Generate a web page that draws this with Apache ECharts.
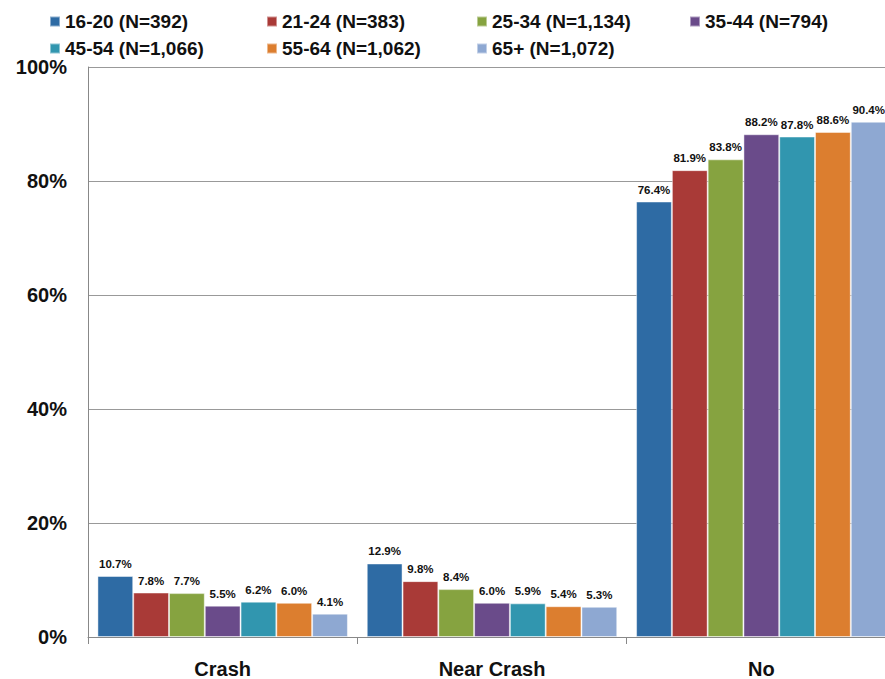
<!DOCTYPE html>
<html>
<head>
<meta charset="utf-8">
<script src="https://cdn.jsdelivr.net/npm/echarts@6/dist/echarts.min.js"></script>
<style>
  html, body { margin: 0; padding: 0; background: #fff; }
  #box { width: 885px; height: 679px; }
</style>
</head>
<body>
<div id="box"></div>
<script>
// categories and series (percent)
let categories = ["Crash", "Near Crash", "No"];
let groupNames = ["16-20 (N=392)", "21-24 (N=383)", "25-34 (N=1,134)", "35-44 (N=794)",
  "45-54 (N=1,066)", "55-64 (N=1,062)", "65+ (N=1,072)"];
let age1620 = [10.7, 12.9, 76.4];
let age2124 = [7.8, 9.8, 81.9];
let age2534 = [7.7, 8.4, 83.8];
let age3544 = [5.5, 6.0, 88.2];
let age4554 = [6.2, 5.9, 87.8];
let age5564 = [6.0, 5.4, 88.6];
let age65 = [4.1, 5.3, 90.4];
let yTicks = [0, 20, 40, 60, 80, 100];

let values = [age1620, age2124, age2534, age3544, age4554, age5564, age65];
let colors = ["#2E6BA4", "#A93A37", "#86A340", "#6A4B8A", "#3196AF", "#DC7E2F", "#8EA8D2"];
let font = "'Liberation Sans', Arial, sans-serif";

let chart = echarts.init(document.getElementById("box"), null, { renderer: "svg" });

let series = values.map((v, i) => ({
  type: "bar",
  name: groupNames[i],
  data: v,
  barGap: "0%",
  barCategoryGap: "7%",
  itemStyle: { color: colors[i], borderColor: "rgba(255,255,255,0.45)", borderWidth: 1 },
  label: {
    show: true,
    position: "top",
    distance: 6,
    formatter: p => p.value.toFixed(1) + "%",
    fontFamily: font,
    fontWeight: "bold",
    fontSize: 11.5,
    color: "#111"
  }
}));

// one legend per item so the columns line up like the original
let legendCols = [44, 261, 471, 684];
let legends = groupNames.map((name, i) => ({
  left: legendCols[i % 4],
  top: i < 4 ? 7 : 34,
  data: [name],
  itemWidth: 10,
  itemHeight: 10,
  itemGap: 0,
  icon: "rect",
  textStyle: { fontFamily: font, fontWeight: "bold", fontSize: 19, color: "#111" }
}));

let option = {
  animation: false,
  legend: legends,
  // the original plot runs a little past the right edge of the picture
  grid: { left: 88, width: 808, top: 67, bottom: 42, containLabel: false, outerBoundsMode: "none" },
  xAxis: {
    type: "category",
    data: categories,
    axisLine: { lineStyle: { color: "#888" } },
    axisTick: { show: true, length: 7, lineStyle: { color: "#888" } },
    axisLabel: { margin: 22, fontFamily: font, fontWeight: "bold", fontSize: 20, color: "#111" }
  },
  yAxis: {
    type: "value",
    min: 0,
    max: 100,
    interval: 20,
    axisLine: { show: true, lineStyle: { color: "#888" } },
    axisTick: { show: false },
    splitLine: { lineStyle: { color: "#999" } },
    axisLabel: {
      margin: 21,
      fontFamily: font,
      fontWeight: "bold",
      fontSize: 20,
      color: "#111",
      formatter: v => (yTicks.indexOf(v) >= 0 ? v + "%" : "")
    }
  },
  series: series
};

chart.setOption(option);
</script>
</body>
</html>
